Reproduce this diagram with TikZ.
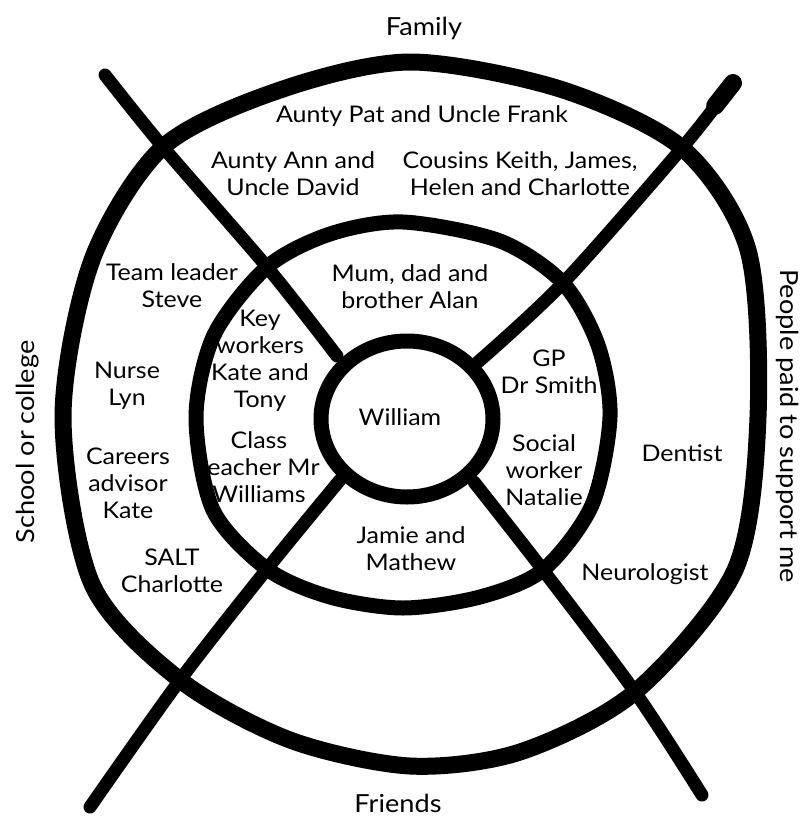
\documentclass[tikz,border=0pt]{standalone}
\usepackage{fontspec}
\setmainfont{Lato}[FakeStretch=1.09]
\usetikzlibrary{calc}
\tikzset{
  cos/ring/.style={draw, line width=15bp, line join=round},
  cos/spoke/.style={draw, line width=13bp, line cap=round, line join=round},
  cos/label/.style={align=center, inner sep=0pt, font=\fontsize{23}{27}\selectfont},
  cos/side/.style={inner sep=0pt, font=\fontsize{25}{28}\selectfont},
}

\begin{document}
\begin{tikzpicture}[x=1bp, y=-1bp]
  \useasboundingbox (0,0) rectangle (801,817);

  % Ringe (von aussen nach innen)
  \draw[cos/ring, line width=17bp] plot[smooth cycle] coordinates {
    (410,62) (560,89) (682,148) (748,250) (758,417) (735,570) (635,692)
    (520,752) (410,766) (290,740) (180,680) (92,584) (63,417) (92,260)
    (163,147) (280,90)};
  \draw[cos/ring] plot[smooth cycle] coordinates {
    (403,222) (500,241) (563,283) (598,345) (610,417) (592,505) (543,570)
    (480,597) (403,608) (330,597) (267,569) (213,510) (196,417) (214,335)
    (267,267) (330,234)};
  \draw[cos/ring] (407,419) ellipse[x radius=86, y radius=78];

  % Speichen
  \coordinate (nw) at (105,75);
  \coordinate (ne) at (733,83);
  \coordinate (sw) at (90,807);
  \coordinate (se) at (702,795);
  \draw[cos/spoke] plot[smooth] coordinates {(nw) (163,147) (267,267) (337,356)};
  \draw[cos/spoke] plot[smooth] coordinates {(ne) (682,148) (563,283) (478,362)};
  \draw[cos/spoke, line width=18bp] (ne) -- ($(ne)!0.35!(682,148)$);
  \draw[cos/spoke] plot[smooth] coordinates {(sw) (180,680) (267,569) (340,480)};
  \draw[cos/spoke] plot[smooth] coordinates {(se) (635,692) (543,570) (474,482)};

  % Bereiche
  \node[cos/side] (family) at (424,28) {Family};
  \node[cos/side] (friends) at (398,803) {Friends};
  \node[cos/side, rotate=90] (school) at (28,442) {School or college};
  \node[cos/side, rotate=-90] (paid) at (788,426) {People paid to support me};

  % Namen
  \node[cos/label] (william) at (400,417) {William};
  \node[cos/label] (patfrank) at (422,116) {Aunty Pat and Uncle Frank};
  \node[cos/label] (anndavid) at (293,174) {Aunty Ann and\\Uncle David};
  \node[cos/label] (cousins) at (520,174) {Cousins Keith, James,\\Helen and Charlotte};
  \node[cos/label] (mumdad) at (410,287) {Mum, dad and\\brother Alan};
  \node[cos/label] (steve) at (172,286) {Team leader\\Steve};
  \node[cos/label] (keyw) at (260,361) {Key\\workers\\Kate and\\Tony};
  \node[cos/label] (lyn) at (127,386) {Nurse\\Lyn};
  \node[cos/label] (teacher) at (259,467) {Class\\teacher Mr\\Williams};
  \node[cos/label] (careers) at (128,483) {Careers\\advisor\\Kate};
  \node[cos/label] (gp) at (549,372) {GP\\Dr Smith};
  \node[cos/label] (social) at (544,470) {Social\\worker\\Natalie};
  \node[cos/label] (dentist) at (682,453) {Dentist};
  \node[cos/label] (jamie) at (411,549) {Jamie and\\Mathew};
  \node[cos/label] (salt) at (172,571) {SALT\\Charlotte};
  \node[cos/label] (neuro) at (645,574) {Neurologist};
\end{tikzpicture}
\end{document}
